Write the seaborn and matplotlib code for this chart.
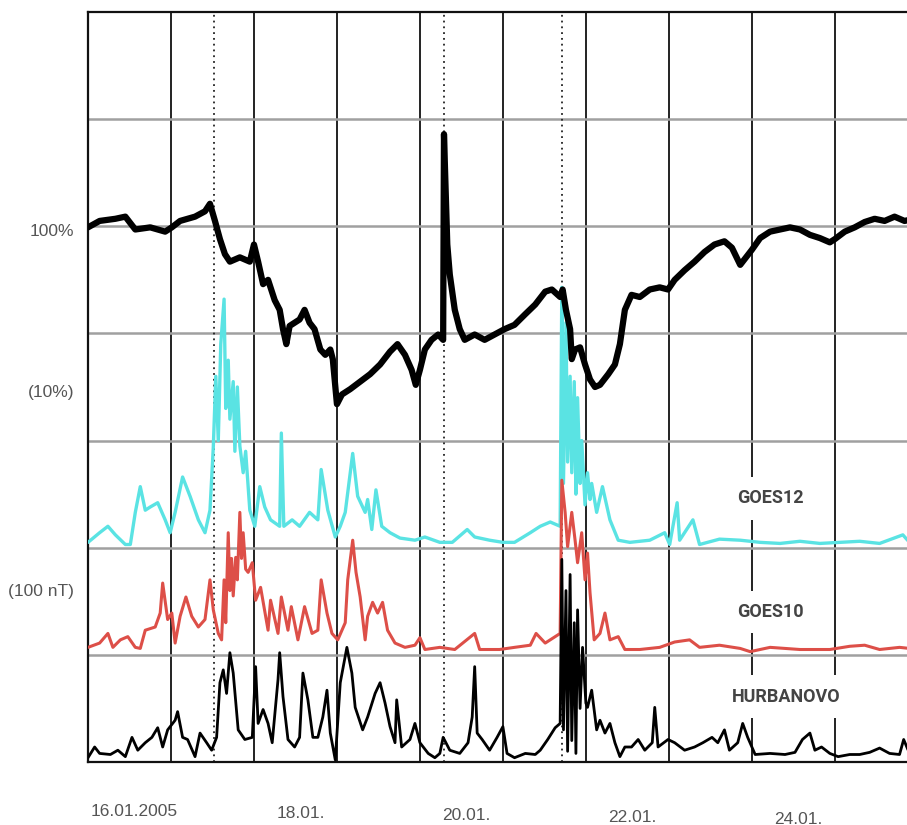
import matplotlib
matplotlib.use("Agg")
import matplotlib.pyplot as plt
import seaborn as sns
import pandas as pd

# x in days from 16.01.2005 00:00 UT, y in chart bands (one band = one horizontal grid step)
cr_day = [0.00, 0.14, 0.33, 0.45, 0.57, 0.75, 0.93, 1.01, 1.11, 1.29, 1.41, 1.47, 1.53, 1.59, 1.65,
          1.71, 1.83, 1.95, 2.00, 2.05, 2.11, 2.17, 2.25, 2.31, 2.35, 2.39, 2.43, 2.49, 2.55, 2.61,
          2.67, 2.73, 2.80, 2.86, 2.92, 2.95, 3.00, 3.06, 3.16, 3.28, 3.40, 3.52, 3.64, 3.73, 3.82,
          3.90, 3.95, 4.00, 4.06, 4.14, 4.22, 4.28, 4.29, 4.31, 4.33, 4.36, 4.42, 4.48, 4.54, 4.66,
          4.78, 4.90, 5.02, 5.14, 5.27, 5.39, 5.51, 5.59, 5.69, 5.72, 5.76, 5.81, 5.83, 5.87, 5.93,
          5.99, 6.05, 6.11, 6.17, 6.27, 6.35, 6.41, 6.47, 6.55, 6.65, 6.77, 6.89, 6.99, 7.07, 7.19,
          7.31, 7.43, 7.55, 7.67, 7.76, 7.86, 7.93, 8.00, 8.10, 8.22, 8.34, 8.46, 8.58, 8.70, 8.82,
          8.94, 9.00, 9.12, 9.24, 9.36, 9.48, 9.60, 9.72, 9.84, 9.90]
cr_val = [4.99, 5.05, 5.07, 5.09, 4.97, 4.99, 4.95, 4.99, 5.05, 5.09, 5.14, 5.21, 5.05, 4.88, 4.74,
          4.67, 4.71, 4.67, 4.83, 4.67, 4.46, 4.50, 4.31, 4.22, 4.04, 3.90, 4.07, 4.10, 4.13, 4.22,
          4.10, 4.04, 3.85, 3.80, 3.85, 3.76, 3.34, 3.43, 3.48, 3.55, 3.62, 3.71, 3.83, 3.90, 3.80,
          3.66, 3.52, 3.66, 3.85, 3.94, 3.99, 3.94, 5.86, 5.34, 4.83, 4.55, 4.22, 4.04, 3.94, 3.99,
          3.94, 3.99, 4.04, 4.08, 4.18, 4.27, 4.39, 4.41, 4.34, 4.41, 4.22, 4.04, 3.76, 3.85, 3.87,
          3.71, 3.57, 3.50, 3.52, 3.62, 3.71, 3.90, 4.22, 4.36, 4.34, 4.41, 4.43, 4.41, 4.50, 4.59,
          4.67, 4.76, 4.83, 4.86, 4.80, 4.64, 4.71, 4.78, 4.89, 4.95, 4.97, 4.99, 4.97, 4.92, 4.89,
          4.85, 4.88, 4.95, 4.99, 5.04, 5.07, 5.05, 5.09, 5.05, 5.06]

goes12_day = [0.00, 0.14, 0.24, 0.33, 0.45, 0.51, 0.57, 0.63, 0.69, 0.75, 0.84, 0.93, 0.99, 1.05,
              1.14, 1.23, 1.33, 1.41, 1.47, 1.51, 1.54, 1.57, 1.60, 1.64, 1.66, 1.69, 1.71, 1.75,
              1.77, 1.80, 1.83, 1.87, 1.90, 1.95, 2.01, 2.07, 2.13, 2.20, 2.31, 2.33, 2.36, 2.46,
              2.55, 2.67, 2.77, 2.81, 2.89, 2.98, 3.04, 3.10, 3.19, 3.25, 3.34, 3.37, 3.42, 3.47,
              3.54, 3.64, 3.76, 3.94, 4.06, 4.24, 4.39, 4.57, 4.66, 4.84, 5.00, 5.14, 5.33, 5.45,
              5.57, 5.69, 5.71, 5.73, 5.76, 5.78, 5.81, 5.83, 5.86, 5.88, 5.90, 5.93, 5.95, 5.99,
              6.02, 6.05, 6.07, 6.13, 6.20, 6.29, 6.39, 6.53, 6.77, 6.95, 7.01, 7.10, 7.13, 7.29,
              7.37, 7.61, 7.86, 8.10, 8.34, 8.58, 8.82, 9.06, 9.30, 9.54, 9.82, 9.90]
goes12_val = [2.05, 2.14, 2.20, 2.12, 2.03, 2.03, 2.33, 2.57, 2.35, 2.38, 2.42, 2.26, 2.14, 2.33,
              2.66, 2.48, 2.26, 2.14, 2.35, 2.94, 3.60, 3.00, 3.90, 4.32, 3.30, 3.75, 3.20, 3.55,
              2.90, 3.50, 2.95, 2.70, 2.90, 2.35, 2.20, 2.57, 2.38, 2.26, 2.20, 3.07, 2.20, 2.26,
              2.20, 2.33, 2.26, 2.73, 2.35, 2.10, 2.20, 2.33, 2.88, 2.48, 2.33, 2.45, 2.17, 2.54,
              2.20, 2.14, 2.09, 2.07, 2.10, 2.05, 2.05, 2.17, 2.10, 2.07, 2.05, 2.05, 2.14, 2.20,
              2.24, 2.20, 4.43, 2.60, 4.10, 2.80, 3.60, 2.70, 3.55, 2.50, 3.40, 2.60, 3.00, 2.40,
              2.70, 2.45, 2.60, 2.33, 2.57, 2.26, 2.07, 2.05, 2.07, 2.14, 2.03, 2.42, 2.07, 2.26,
              2.03, 2.08, 2.07, 2.05, 2.04, 2.06, 2.04, 2.05, 2.06, 2.04, 2.12, 2.05]

goes10_day = [0.00, 0.14, 0.24, 0.30, 0.39, 0.48, 0.57, 0.63, 0.69, 0.81, 0.87, 0.90, 0.96, 1.01,
              1.05, 1.11, 1.18, 1.25, 1.33, 1.41, 1.47, 1.51, 1.57, 1.61, 1.64, 1.66, 1.69, 1.71,
              1.73, 1.75, 1.78, 1.80, 1.83, 1.85, 1.87, 1.90, 1.93, 1.98, 2.02, 2.08, 2.17, 2.20,
              2.29, 2.33, 2.41, 2.45, 2.53, 2.61, 2.70, 2.77, 2.81, 2.88, 2.94, 3.01, 3.10, 3.13,
              3.19, 3.23, 3.28, 3.34, 3.37, 3.43, 3.49, 3.55, 3.61, 3.70, 3.82, 3.94, 4.00, 4.06,
              4.24, 4.42, 4.66, 4.72, 4.96, 5.14, 5.33, 5.40, 5.51, 5.63, 5.69, 5.71, 5.75, 5.78,
              5.83, 5.87, 5.90, 5.95, 5.99, 6.02, 6.05, 6.10, 6.17, 6.23, 6.29, 6.39, 6.47, 6.65,
              6.89, 7.07, 7.25, 7.37, 7.61, 7.86, 7.98, 8.22, 8.58, 8.94, 9.18, 9.36, 9.54, 9.78,
              9.90]
goes10_val = [1.07, 1.11, 1.20, 1.07, 1.14, 1.17, 1.07, 1.06, 1.23, 1.26, 1.39, 1.67, 1.33, 1.39,
              1.11, 1.36, 1.54, 1.36, 1.26, 1.33, 1.70, 1.42, 1.20, 1.14, 1.70, 1.30, 2.14, 1.60,
              1.90, 1.55, 1.91, 1.70, 2.33, 1.90, 2.14, 1.80, 1.77, 1.86, 1.51, 1.63, 1.23, 1.51,
              1.20, 1.54, 1.23, 1.45, 1.14, 1.45, 1.20, 1.23, 1.70, 1.39, 1.20, 1.14, 1.30, 1.70,
              2.07, 1.77, 1.54, 1.14, 1.36, 1.49, 1.39, 1.49, 1.23, 1.11, 1.07, 1.09, 1.16, 1.05,
              1.07, 1.05, 1.20, 1.05, 1.05, 1.07, 1.09, 1.20, 1.11, 1.17, 1.20, 2.63, 2.33, 2.01,
              2.33, 2.07, 1.86, 2.14, 1.70, 1.95, 1.58, 1.14, 1.20, 1.39, 1.14, 1.17, 1.05, 1.05,
              1.07, 1.12, 1.14, 1.07, 1.09, 1.06, 1.03, 1.07, 1.05, 1.05, 1.08, 1.09, 1.05, 1.07,
              1.06]

hurb_day = [0.00, 0.08, 0.14, 0.27, 0.36, 0.45, 0.53, 0.60, 0.69, 0.77, 0.84, 0.90, 0.96, 1.05,
            1.08, 1.14, 1.20, 1.29, 1.35, 1.43, 1.49, 1.55, 1.59, 1.63, 1.67, 1.71, 1.75, 1.81,
            1.89, 1.98, 2.02, 2.05, 2.11, 2.17, 2.22, 2.29, 2.31, 2.35, 2.41, 2.49, 2.55, 2.59,
            2.65, 2.71, 2.77, 2.83, 2.88, 2.92, 2.98, 3.04, 3.12, 3.18, 3.22, 3.31, 3.37, 3.46,
            3.52, 3.58, 3.64, 3.70, 3.72, 3.78, 3.88, 3.94, 4.00, 4.10, 4.18, 4.24, 4.28, 4.36,
            4.48, 4.58, 4.63, 4.66, 4.69, 4.75, 4.84, 4.93, 5.00, 5.05, 5.14, 5.27, 5.39, 5.45,
            5.54, 5.63, 5.69, 5.71, 5.73, 5.76, 5.78, 5.81, 5.83, 5.86, 5.88, 5.90, 5.93, 5.96,
            6.00, 6.02, 6.07, 6.13, 6.17, 6.23, 6.29, 6.35, 6.41, 6.47, 6.55, 6.63, 6.71, 6.80,
            6.83, 6.87, 6.99, 7.07, 7.19, 7.31, 7.41, 7.52, 7.59, 7.67, 7.73, 7.83, 7.89, 7.95,
            8.04, 8.22, 8.40, 8.52, 8.61, 8.70, 8.76, 8.84, 8.94, 9.04, 9.18, 9.30, 9.42, 9.54,
            9.66, 9.78, 9.83, 9.90]
hurb_val = [0.04, 0.14, 0.08, 0.07, 0.11, 0.05, 0.23, 0.11, 0.18, 0.23, 0.32, 0.14, 0.30, 0.39,
            0.47, 0.23, 0.21, 0.05, 0.27, 0.18, 0.11, 0.23, 0.74, 0.86, 0.64, 1.02, 0.83, 0.30,
            0.21, 0.23, 0.89, 0.36, 0.49, 0.36, 0.18, 0.77, 1.02, 0.61, 0.21, 0.14, 0.23, 0.83,
            0.58, 0.23, 0.23, 0.42, 0.67, 0.27, 0.02, 0.74, 1.07, 0.83, 0.51, 0.30, 0.42, 0.64,
            0.74, 0.55, 0.33, 0.18, 0.58, 0.14, 0.21, 0.36, 0.18, 0.08, 0.04, 0.08, 0.23, 0.11,
            0.08, 0.18, 0.42, 0.89, 0.27, 0.21, 0.11, 0.23, 0.33, 0.08, 0.04, 0.08, 0.07, 0.11,
            0.21, 0.32, 0.36, 1.89, 0.30, 1.60, 0.10, 1.75, 0.20, 1.30, 0.08, 1.42, 0.50, 1.07,
            0.55, 0.51, 0.67, 0.30, 0.39, 0.27, 0.36, 0.18, 0.05, 0.14, 0.14, 0.21, 0.11, 0.18,
            0.51, 0.14, 0.21, 0.18, 0.11, 0.14, 0.18, 0.23, 0.18, 0.30, 0.11, 0.18, 0.36, 0.23,
            0.07, 0.08, 0.07, 0.09, 0.21, 0.27, 0.11, 0.14, 0.08, 0.05, 0.07, 0.07, 0.09, 0.13,
            0.08, 0.07, 0.21, 0.08]

date_days = [0, 2, 4, 6, 8]
date_labels = ["16.01.2005", "18.01.", "20.01.", "22.01.", "24.01."]
event_days = [1.52, 4.29, 5.71]
scale_labels = ["100%", "(10%)", "(100 nT)"]
scale_levels = [4.95, 3.45, 1.59]
series_names = ["GOES12", "GOES10", "HURBANOVO"]
name_pos = [(8.22, 2.46), (8.23, 1.40), (8.42, 0.61)]

sns.set_style("white")
plt.rcParams["font.family"] = ["Liberation Sans", "DejaVu Sans"]

fig = plt.figure(figsize=(9.07, 8.25), dpi=100)
ax = fig.add_axes([88 / 907, 63 / 825, 1 - 88 / 907, 750 / 825])

# grid: black day lines, grey band lines
ax.set_xlim(0, 9.87)
ax.set_ylim(0, 7)
ax.set_xticks(range(1, 10))
ax.set_yticks(range(1, 7))
ax.tick_params(length=0, labelbottom=False, labelleft=False)
ax.xaxis.grid(True, color="#111111", lw=1.3)
ax.yaxis.grid(True, color="#a0a0a0", lw=1.8)
ax.set_axisbelow(True)
for s in ["top", "left", "bottom"]:
    ax.spines[s].set_color("#111111")
    ax.spines[s].set_linewidth(1.6)
ax.spines["right"].set_visible(False)

for d in event_days:
    ax.axvline(d, color="#222222", lw=1.3, ls=(0, (1, 2.2)), zorder=1)

df_cr = pd.DataFrame({"day": cr_day, "val": cr_val})
df_g12 = pd.DataFrame({"day": goes12_day, "val": goes12_val})
df_g10 = pd.DataFrame({"day": goes10_day, "val": goes10_val})
df_hu = pd.DataFrame({"day": hurb_day, "val": hurb_val})

sns.lineplot(data=df_g12, x="day", y="val", ax=ax, color="#5ae3e3", linewidth=2.4,
             sort=False, estimator=None, zorder=3)
sns.lineplot(data=df_g10, x="day", y="val", ax=ax, color="#dd4f48", linewidth=2.2,
             sort=False, estimator=None, zorder=4)
sns.lineplot(data=df_hu, x="day", y="val", ax=ax, color="black", linewidth=2.0,
             sort=False, estimator=None, zorder=5)
sns.lineplot(data=df_cr, x="day", y="val", ax=ax, color="black", linewidth=4.5,
             sort=False, estimator=None, zorder=5)
ax.set_xlabel("")
ax.set_ylabel("")

for i, (d, lab) in enumerate(zip(date_days, date_labels)):
    ax.text(d + 0.56, -0.46 - 0.018 * i, lab, ha="center", va="center",
            fontsize=12.5, color="#555555", clip_on=False)

for lab, lev in zip(scale_labels, scale_levels):
    ax.text(-0.17, lev, lab, ha="right", va="center", fontsize=12.5,
            color="#555555", clip_on=False)

for name, (x, y) in zip(series_names, name_pos):
    ax.text(x, y, name, ha="center", va="center", fontsize=13, fontweight="bold",
            family=["DejaVu Sans Condensed", "Roboto", "DejaVu Sans"], color="#444444",
            zorder=6, bbox=dict(facecolor="white", edgecolor="none", pad=9))

fig.savefig("out.png", dpi=100)
